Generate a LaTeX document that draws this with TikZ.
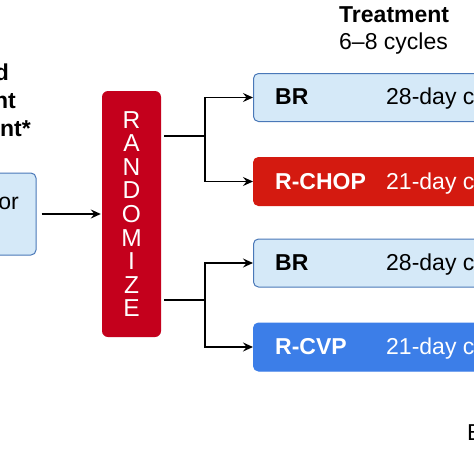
\documentclass[tikz,border=0pt]{standalone}
\usepackage{fontspec}
\setmainfont{Liberation Sans}
\usetikzlibrary{calc,positioning,arrows.meta}
\definecolor{paleblue}{HTML}{D5E9F8}
\definecolor{edgeblue}{HTML}{4A78B8}
\definecolor{randred}{HTML}{C4001C}
\definecolor{chopred}{HTML}{D41A10}
\definecolor{cvpblue}{HTML}{3C7EE8}

\begin{document}
\begin{tikzpicture}[x=1pt,y=-1pt,
    every node/.style={font=\fontsize{23}{27}\selectfont, inner sep=0pt},
    armbox/.style={rectangle, rounded corners=5pt, minimum height=48pt, minimum width=250pt, anchor=west, line width=1pt},
    lightarm/.style={armbox, draw=edgeblue, fill=paleblue},
    redarm/.style={armbox, draw=chopred, fill=chopred, text=white},
    bluearm/.style={armbox, draw=cvpblue, fill=cvpblue, text=white},
    drug/.style={anchor=base west, font=\fontsize{23}{27}\selectfont\bfseries},
    cycle/.style={anchor=base west},
    link/.style={line width=1.4pt},
    arrow/.style={link, -{Stealth[length=10pt,width=9pt,inset=3.5pt]}},
]
\useasboundingbox (0,0) rectangle (474,474);
\clip (0,0) rectangle (474,474);

% heading
\node[anchor=base west, font=\fontsize{23}{27}\selectfont\bfseries] (treat) at (339,22) {Treatment};
\node[anchor=base west] (cycles) at (339,49) {6--8 cycles};

% left column (cut off)
\node[anchor=base east, font=\fontsize{23}{27}\selectfont\bfseries] (lineA) at (9,80) {d};
\node[anchor=base east, font=\fontsize{23}{27}\selectfont\bfseries] (lineB) at (16,108) {nt};
\node[anchor=base east, font=\fontsize{23}{27}\selectfont\bfseries] (lineC) at (31,136) {nt*};
\node[rectangle, rounded corners=5pt, draw=edgeblue, fill=paleblue, line width=1pt, minimum width=60pt, minimum height=82pt] (entry) at (6,214) {};
\node[anchor=base east] (entrytxt) at (19,209) {or};

% randomization
\node[rectangle, rounded corners=6pt, fill=randred, text=white, minimum width=59pt, minimum height=246pt, align=center,
      font=\fontsize{24.5}{23.6}\selectfont] (rand) at (131.5,214) {R\\A\\N\\D\\O\\M\\I\\Z\\E};
\draw[arrow] ([xshift=5pt]entry.east) -- ([xshift=-1pt]rand.west);

% arms
\node[lightarm] (br1) at (253,97.5) {};
\node[redarm] (rchop) at (253,181.5) {};
\node[lightarm] (br2) at (253,263) {};
\node[bluearm] (rcvp) at (253,347) {};

\node[drug] at (275,104) {BR};
\node[cycle] at (386,104) {28-day cycles};
\node[drug, text=white] at (275,189) {R-CHOP};
\node[cycle, text=white] at (386,189) {21-day cycles};
\node[drug] at (275,270) {BR};
\node[cycle] at (386,270) {28-day cycles};
\node[drug, text=white] at (275,354) {R-CVP};
\node[cycle, text=white] at (386,354) {21-day cycles};

\node[anchor=base west] (tail) at (467,440) {E};

% branches
\coordinate (splitA) at (205,136);
\coordinate (splitB) at (205,300);
\draw[link] ([xshift=3pt]rand.east |- splitA) -- (splitA);
\draw[link] ([xshift=3pt]rand.east |- splitB) -- (splitB);
\draw[arrow] (splitA) |- (br1.west);
\draw[arrow] (splitA) |- (rchop.west);
\draw[arrow] (splitB) |- (br2.west);
\draw[arrow] (splitB) |- (rcvp.west);
\end{tikzpicture}
\end{document}
